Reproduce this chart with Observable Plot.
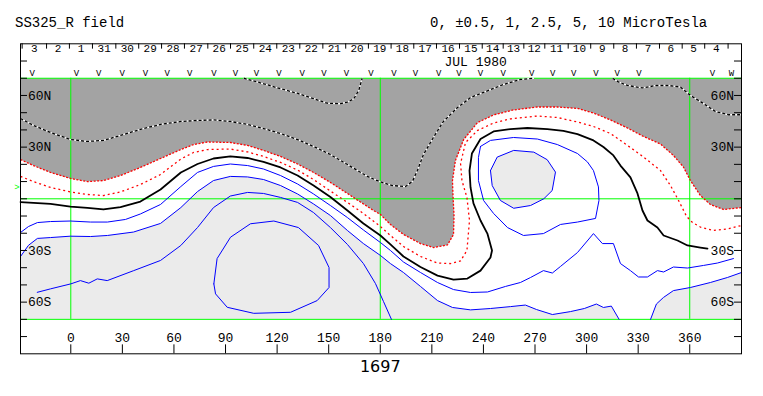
<!DOCTYPE html>
<html><head><meta charset="utf-8">
<script src="https://cdn.jsdelivr.net/npm/d3@7"></script>
<script src="https://cdn.jsdelivr.net/npm/@observablehq/plot@0.6"></script>
<style>
body{margin:0;background:#fff;}
#wrap{position:relative;width:763px;height:396px;overflow:hidden;background:#fff;}
#head{position:relative;height:36px;font-family:"Liberation Mono",monospace;font-size:14px;color:#000;}
#head span{position:absolute;top:16px;line-height:14px;white-space:pre;}
#chart svg{display:block;}
</style></head>
<body><div id="wrap"><div id="head"><span style="left:15px">SS325_R field</span><span style="left:430px">0, ±0.5, 1, 2.5, 5, 10 MicroTesla</span></div><div id="chart"></div></div>
<script>
// ---- axis data ----
const lonTicks = [0, 30, 60, 90, 120, 150, 180, 210, 240, 270, 300, 330, 360];
const latTicks = [-80, -70, -60, -50, -40, -30, -20, -10, 0, 10, 20, 30, 40, 50, 60, 70, 80];
const latLabelValues = [60, 30, -30, -60];
const latLabelText = ["60N", "30N", "30S", "60S"];
const gridLon = [0, 180, 360];
const gridLat = [-70, 0, 70];
const dayTicks = [-28.3, -14.1, -0.8, 12.6, 26.2, 39.5, 52.8, 66.1, 79.7, 92.9, 106.4, 119.8, 133.2, 146.6, 159.9, 173.1, 186.3, 199.5, 212.7, 226.1, 239.3, 251.5, 263.5, 275.7, 289.3, 302.4, 315.8, 329.0, 342.4, 355.6, 368.7, 382.3];
const dayLabels = ["3","2","1","31","30","29","28","27","26","25","24","23","22","21","20","19","18","17","16","15","14","13","12","11","10","9","8","7","6","5","4"];
const obsLonV = [-22.4, 3.3, 16.3, 29.9, 43.4, 56.1, 69.2, 83.2, 95.8, 108.0, 121.0, 134.6, 147.3, 160.3, 174.6, 187.9, 200.5, 214.0, 225.7, 238.3, 251.5, 268.1, 280.3, 292.5, 305.5, 317.8, 330.5, 373.2];
const obsLonW = [384.3];
const b0Marker = [[-31.3, 6.6]];
const monthLabel = [{lon: 235.5, lat: 79.6, text: "JUL 1980"}];
const rotationLabel = [{lon: 180, lat: -97.4, text: "1697"}];

// ---- contour lines [lon, lat] ----
const negOuter = [[-29.25,22.8],[-21.7,19.3],[-11.8,15.3],[-0.2,11.8],[9.7,10.0],[19.0,10.6],[28.9,13.5],[40.5,18.2],[52.2,23.4],[64.0,28.6],[71.4,31.5],[79.5,33.0],[92.8,32.7],[102.8,31.0],[112.1,28.1],[122.0,24.6],[131.9,20.2],[141.2,15.3],[151.0,9.5],[160.9,3.1],[168.5,-1.9],[176.1,-6.8],[180.1,-9.1],[185.9,-14.9],[193.5,-20.7],[203.4,-26.0],[211.0,-28.3],[219.1,-26.8],[222.6,-20.7],[222.9,-9.7],[222.3,1.9],[222.0,10.6],[223.7,22.2],[228.5,34.4],[236.6,44.3],[245.9,48.7],[257.5,51.6],[271.4,53.3],[283.0,53.3],[294.7,52.5],[304.0,49.8],[313.9,45.8],[323.8,41.1],[333.1,36.2],[343.0,31.8],[350.5,25.2],[356.3,18.5],[360.4,10.6],[366.2,1.9],[372.0,-3.3],[379.6,-6.2],[390.1,-5.1]];
const negInner = [[-29.25,13.0],[-21.7,10.0],[-11.8,6.6],[-0.2,4.0],[9.7,2.5],[19.0,1.9],[28.9,4.0],[40.5,8.3],[52.2,14.1],[64.0,23.1],[71.4,26.9],[79.5,28.6],[92.8,28.9],[102.8,27.2],[112.1,24.6],[122.0,21.1],[131.9,16.7],[141.2,11.2],[151.0,4.5],[160.9,-2.1],[170.2,-8.5],[180.1,-16.1],[185.9,-21.3],[193.5,-27.7],[203.4,-33.5],[213.3,-37.3],[220.8,-37.6],[226.7,-36.1],[230.4,-30.0],[231.9,-12.6],[230.4,0.8],[227.5,10.6],[226.7,20.5],[229.6,32.7],[236.6,39.7],[245.9,44.0],[255.7,46.4],[271.4,48.1],[283.0,47.2],[294.7,44.6],[304.0,42.0],[313.9,37.9],[323.8,31.0],[333.1,24.3],[343.0,16.4],[348.8,7.7],[353.5,-1.0],[358.2,-10.3],[361.6,-13.8],[366.2,-16.4],[373.8,-18.4],[381.9,-17.5],[390.1,-15.5]];
const neutral = [[-29.25,-1.9],[-21.7,-2.4],[-11.8,-3.0],[-0.2,-4.5],[9.7,-5.3],[19.0,-6.2],[28.9,-4.8],[40.5,-1.6],[52.2,5.4],[64.0,15.3],[73.7,20.2],[83.0,23.4],[92.8,24.6],[102.8,23.7],[112.1,21.4],[122.0,18.2],[131.9,13.5],[141.2,7.7],[151.0,1.0],[160.9,-6.8],[170.2,-14.3],[180.1,-21.3],[185.9,-26.5],[193.5,-33.5],[203.4,-39.6],[213.3,-44.6],[222.6,-46.9],[230.7,-46.3],[238.3,-41.7],[244.1,-34.1],[245.0,-30.0],[242.3,-20.2],[238.3,-12.6],[234.2,-2.7],[232.5,6.6],[231.9,16.4],[233.3,26.3],[238.3,34.7],[245.9,39.1],[255.7,40.5],[265.6,41.1],[277.2,40.5],[286.5,39.4],[294.7,37.6],[304.0,33.9],[309.8,30.1],[315.6,25.2],[319.7,19.3],[325.5,12.4],[329.6,3.1],[332.5,-6.8],[335.4,-12.6],[341.2,-16.7],[344.8,-21.3],[352.9,-24.2],[358.7,-27.1],[366.2,-28.3],[370.3,-28.9]];
const pos05 = [[-29.25,-19.6],[-24.6,-16.1],[-19.4,-13.8],[-11.8,-13.2],[-0.2,-12.9],[11.5,-13.5],[21.3,-13.5],[31.8,-12.0],[40.5,-8.8],[52.2,-3.3],[64.0,7.1],[73.7,15.3],[83.0,18.8],[92.8,20.2],[102.8,19.3],[112.1,17.3],[122.0,13.5],[131.9,8.6],[141.2,2.8],[151.0,-3.9],[160.9,-10.9],[170.2,-18.1],[180.1,-25.4],[185.9,-30.0],[193.5,-36.7],[203.4,-42.8],[213.3,-48.6],[222.6,-52.7],[232.5,-54.4],[242.4,-54.1],[252.8,-50.9],[261.5,-48.6],[267.4,-45.7],[274.9,-41.7],[280.1,-43.1],[284.8,-39.3],[294.7,-31.2],[304.0,-20.2],[309.2,-26.0],[315.6,-26.0],[319.7,-37.6],[325.5,-41.7],[330.2,-45.4],[335.4,-45.4],[341.2,-41.7],[344.8,-42.5],[350.5,-39.6],[358.7,-40.2],[368.0,-38.7],[376.1,-37.3],[385.4,-34.7]];
const pos05Loop = [[238.3,30.4],[244.1,33.9],[257.5,35.6],[271.4,34.7],[283.0,31.5],[294.7,26.3],[300.5,21.4],[304.0,16.4],[306.9,6.9],[307.2,-1.0],[305.2,-11.4],[294.7,-13.5],[284.8,-14.9],[274.9,-20.2],[263.3,-21.3],[254.0,-16.7],[245.9,-8.5],[240.1,-1.0],[237.1,10.6],[237.1,24.0],[238.3,30.4]];
const pos1West = [[-29.25,-33.5],[-24.6,-27.0],[-19.4,-23.0],[-11.8,-22.5],[-0.2,-21.7],[11.5,-21.9],[21.3,-21.3],[36.5,-19.3],[52.2,-14.3],[64.0,-5.1],[73.7,4.2],[83.0,10.6],[92.8,13.0],[102.8,12.7],[112.1,11.2],[122.0,7.7],[131.9,2.8],[141.2,-3.0],[151.0,-9.7],[160.9,-18.4],[170.2,-26.0],[180.1,-32.9],[185.9,-37.6],[193.5,-42.8],[203.4,-50.9],[213.3,-59.1],[222.0,-63.1],[232.5,-64.5],[244.1,-63.7],[255.7,-62.6],[264.4,-61.7],[270.9,-64.3],[280.1,-67.2],[290.6,-65.5],[298.7,-63.7],[305.7,-61.1],[309.8,-63.1],[314.4,-62.3],[318.9,-70]];
const pos1East = [[337.2,-70],[340.6,-61.1],[344.7,-57.3],[350.5,-53.3],[360.4,-51.5],[372.0,-48.6],[381.9,-45.7],[390.1,-42.8]];
const pos1Oval = [[244.1,16.4],[248.0,24.2],[257.6,28.1],[269.3,27.1],[277.1,22.7],[281.9,15.5],[280.0,4.8],[275.1,0],[267.4,-3.9],[257.6,-5.5],[249.9,-1.0],[245.1,7.7],[244.1,16.4]];
const pos25 = [[-19.5,-54.3],[-11.8,-52.3],[0,-49.4],[5.6,-47.5],[10.5,-49.0],[15.4,-46.5],[21.2,-47.5],[36.6,-41.7],[52.2,-35.8],[64.0,-27.1],[73.7,-16.7],[83.0,-5.1],[92.8,1.6],[102.8,3.7],[112.1,3.1],[122.0,0.8],[131.9,-2.1],[141.2,-8.0],[151.0,-16.7],[160.9,-26.5],[170.2,-37.6],[177.2,-49.2],[181.9,-59.7],[186.5,-70]];
const pos5 = [[83.2,-49.4],[85.1,-34.7],[92.9,-22.3],[104.5,-14.5],[118.1,-12.9],[132.4,-16.7],[144.1,-27.1],[150.2,-39.9],[150.2,-51.5],[143.3,-59.1],[127.8,-65.9],[106.4,-66.5],[91.0,-63.0],[84.2,-55.2],[83.2,-49.4]];
const neg25West = [[-29.25,46.6],[-21.7,42.6],[-11.8,38.5],[-0.2,34.4],[9.7,33.3],[19.0,33.9],[28.9,36.8],[40.5,40.3],[52.2,43.2],[64.0,44.9],[73.7,45.5],[83.0,45.8],[92.8,44.9],[102.8,43.2],[112.1,40.8],[122.0,37.9],[131.9,34.4],[141.2,30.4],[151.0,25.7],[160.9,19.9],[172.5,13.0],[180.1,9.8],[187.1,7.7],[194.7,7.1],[198.7,10.1],[201.6,16.4],[205.1,25.7],[210.9,35.6],[216.7,44.9],[224.9,53.0],[232.5,58.8],[240.1,61.8],[251.7,66.4],[261.5,69.3],[269.1,70]];
const neg25Cap = [[100.6,70],[112.2,66.8],[122.0,63.9],[131.7,61.3],[141.3,58.1],[149.1,55.5],[156.9,55.2],[160.8,56.1],[164.6,58.1],[167.5,62.9],[169.1,68.7],[169.5,70]];
const neg25East = [[315.1,70],[318.5,67.9],[323.8,65.8],[332.5,64.4],[340.6,65.8],[347.6,65.8],[354.6,64.9],[360.4,60.0],[367.4,55.7],[374.9,50.7],[382.5,48.8],[390.1,48.8]];

// ---- chart ----
const xMin = -29.25, xMax = 390.1;
const X = d => d[0], Y = d => d[1];
const darkRegion = [...negOuter, [xMax, 70], [xMin, 70]];
const lightWest = [...pos1West, [xMin, -70]];
const lightEast = [...pos1East, [xMax, -70]];
const dayMid = d3.pairs(dayTicks).map(([a, b], i) => ({lon: (a + b) / 2, text: dayLabels[i]}));
const GREEN = "#00ff00", BLUE = "#0000ff", RED = "#ff0000";
const tickLen = 4.07; // degrees of longitude (axis tick length)

const chart = Plot.plot({
  width: 763, height: 360,
  marginLeft: 20, marginRight: 22, marginTop: 7.3, marginBottom: 42.7,
  x: {domain: [xMin, xMax], axis: null},
  y: {domain: [-90, 90], axis: null},
  style: {fontFamily: "Liberation Mono, monospace", fontSize: "13px", background: "white", color: "black", overflow: "visible"},
  marks: [
    Plot.line(darkRegion, {x: X, y: Y, fill: "#a3a3a3", stroke: "none"}),
    Plot.line(lightWest, {x: X, y: Y, fill: "#ebebeb", stroke: "none"}),
    Plot.line(lightEast, {x: X, y: Y, fill: "#ebebeb", stroke: "none"}),
    Plot.line(pos1Oval, {x: X, y: Y, fill: "#ebebeb", stroke: "none"}),
    Plot.ruleX(gridLon, {y1: -70, y2: 70, stroke: GREEN, strokeWidth: 1}),
    Plot.ruleY(gridLat, {x1: xMin, x2: xMax, stroke: GREEN, strokeWidth: 1}),
    // contours
    Plot.line(neg25West, {x: X, y: Y, stroke: "white", strokeWidth: 1.3}),
    Plot.line(neg25West, {x: X, y: Y, stroke: "black", strokeWidth: 1.3, strokeDasharray: "3,2", strokeLinecap: "butt"}),
    Plot.line(neg25Cap, {x: X, y: Y, stroke: "white", strokeWidth: 1.3}),
    Plot.line(neg25Cap, {x: X, y: Y, stroke: "black", strokeWidth: 1.3, strokeDasharray: "3,2", strokeLinecap: "butt"}),
    Plot.line(neg25East, {x: X, y: Y, stroke: "white", strokeWidth: 1.3}),
    Plot.line(neg25East, {x: X, y: Y, stroke: "black", strokeWidth: 1.3, strokeDasharray: "3,2", strokeLinecap: "butt"}),
    Plot.line(negOuter, {x: X, y: Y, stroke: RED, strokeWidth: 1.3, strokeDasharray: "2,1.5", strokeLinecap: "butt"}),
    Plot.line(negInner, {x: X, y: Y, stroke: RED, strokeWidth: 1.3, strokeDasharray: "2,3", strokeLinecap: "butt"}),
    Plot.line(neutral, {x: X, y: Y, stroke: "black", strokeWidth: 1.8}),
    Plot.line(pos05, {x: X, y: Y, stroke: BLUE, strokeWidth: 1}),
    Plot.line(pos05Loop, {x: X, y: Y, stroke: BLUE, strokeWidth: 1}),
    Plot.line(pos1West, {x: X, y: Y, stroke: BLUE, strokeWidth: 1}),
    Plot.line(pos1East, {x: X, y: Y, stroke: BLUE, strokeWidth: 1}),
    Plot.line(pos1Oval, {x: X, y: Y, stroke: BLUE, strokeWidth: 1}),
    Plot.line(pos25, {x: X, y: Y, stroke: BLUE, strokeWidth: 1}),
    Plot.line(pos5, {x: X, y: Y, stroke: BLUE, strokeWidth: 1}),
    // lat axis ticks and labels
    Plot.ruleY(latTicks, {x1: xMin, x2: xMin + tickLen, stroke: "black"}),
    Plot.ruleY(latTicks, {x1: xMax - tickLen, x2: xMax, stroke: "black"}),
    Plot.text(latLabelValues, {x: xMin + tickLen + 0.3, y: d => d, text: (d, i) => latLabelText[i], textAnchor: "start", fontSize: 13}),
    Plot.text(latLabelValues, {x: xMax - tickLen - 0.3, y: d => d, text: (d, i) => latLabelText[i], textAnchor: "end", fontSize: 13}),
    // lon axis (bottom box)
    Plot.ruleX(lonTicks, {y1: -90, y2: -84.8, stroke: "black"}),
    Plot.text(lonTicks, {x: d => d, y: -81.0, text: d => String(d), fontSize: 13}),
    Plot.text(rotationLabel, {x: "lon", y: "lat", text: "text", fontFamily: "DejaVu Sans", fontSize: 16}),
    // top box: days, month, observations
    Plot.ruleX(dayTicks, {y1: 90, y2: 86.9, stroke: "black"}),
    Plot.text(dayMid, {x: "lon", y: 87.4, text: "text", fontSize: 11}),
    Plot.text(monthLabel, {x: "lon", y: "lat", text: "text", fontSize: 13}),
    Plot.text(obsLonV, {x: d => d, y: 72.8, text: () => "V", fontSize: 9}),
    Plot.text(obsLonW, {x: d => d, y: 72.8, text: () => "W", fontSize: 9}),
    Plot.text(b0Marker, {x: X, y: Y, text: () => ">", fill: GREEN, fontSize: 9}),
    Plot.frame({stroke: "black"})
  ]
});
document.getElementById("chart").appendChild(chart);
</script>
</body></html>
